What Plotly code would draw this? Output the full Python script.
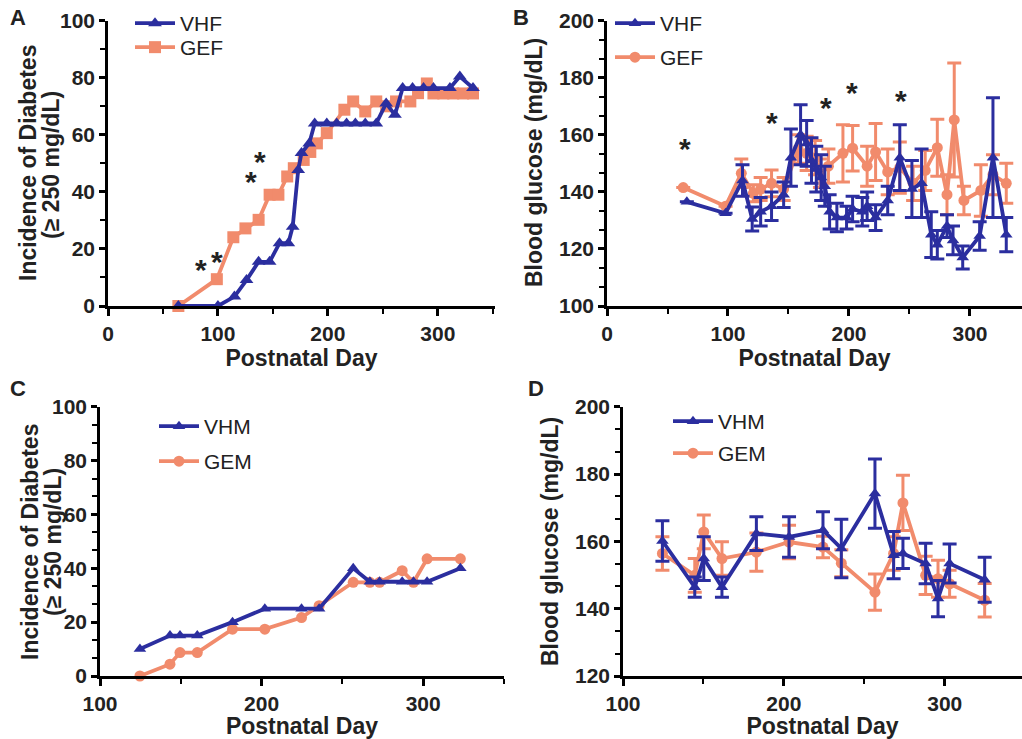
import plotly.graph_objects as go

BLUE = "#2b2e9f"
ORANGE = "#f18b6c"
FONT = "Liberation Sans, Arial, sans-serif"

# ---------------- Panel A: incidence (females) ----------------
a_vhf_x = [64, 100, 115, 126, 137, 147, 156, 164, 168, 173, 176, 183, 188, 199, 208, 217, 225, 234, 244, 253, 261, 268, 277, 287, 296, 311, 320, 332]
a_vhf_y = [0, 0, 3.3, 9.1, 15.5, 15.5, 22, 22, 27.8, 47.7, 53.6, 57, 64, 64, 64, 64, 64, 64, 64, 71, 67, 76.4, 76.4, 76.4, 76.4, 76.4, 80.4, 76.4]
a_gef_x = [64, 99, 114, 125, 137, 147, 155, 163, 169, 178, 184, 190, 199, 215, 223, 234, 244, 253, 262, 275, 282, 290, 296, 305, 314, 323, 332]
a_gef_y = [0, 9.4, 24.1, 27.2, 30.2, 39, 39, 45.4, 48.3, 51.2, 54, 57, 60.6, 68.8, 71.7, 68.2, 71.7, 70, 71.7, 71.7, 74.6, 78, 74.5, 74.5, 74.5, 74.5, 74.5]
a_star_x = [85, 99, 130, 138]
a_star_y = [15.5, 18.5, 46.5, 53.3]

# ---------------- Panel B: blood glucose (females) ----------------
b_vhf_x = [66, 98, 112, 120, 127, 136, 146, 152, 160, 165, 169, 173, 177, 180, 184, 190, 198, 203, 211, 215, 222, 232, 242, 252, 260, 268, 273, 281, 286, 294, 308, 319, 330]
b_vhf_y = [136.5, 132.5, 144, 130.5, 133, 135, 139, 152, 160, 157, 151, 148, 145, 142, 133, 131, 131, 134, 133, 135, 131, 137, 152, 141, 143, 125, 121.5, 128, 123, 117, 124.5, 152, 125]
b_vhf_e = [0, 0, 5.5, 4.2, 5, 5, 4.5, 10, 10.5, 8, 8, 8, 8, 7, 6, 5, 4, 4.5, 5, 5, 4.5, 5, 11.5, 10, 12, 8, 5, 4, 5, 4, 5, 21, 6]
b_gef_x = [63, 98, 111, 121, 127, 136, 146, 158, 165, 172, 176, 183, 195, 203, 215, 222, 232, 242, 253, 263, 273, 281, 287, 295, 309, 319, 330]
b_gef_y = [141.5, 135, 146.5, 139.5, 141, 143, 141, 155, 153.5, 152, 146.5, 149, 153.5, 155.3, 149, 154, 147, 148.5, 143, 147.5, 155.5, 139, 165.2, 137, 140.5, 146, 143]
b_gef_e = [0, 0, 5, 3, 4, 4.7, 4, 5, 6, 6, 5, 6, 10, 8, 7, 10, 8, 9, 6, 7, 10, 7, 20, 5, 9, 7, 7]
b_star_x = [64.5, 136, 181, 202.5, 243]
b_star_y = [158, 167, 172.5, 177.5, 175]

# ---------------- Panel C: incidence (males) ----------------
c_vhm_x = [124.7, 143.3, 149.5, 160.2, 182, 202, 224.7, 235.6, 256.7, 267, 273, 287, 294, 302.4, 323]
c_vhm_y = [10, 15, 15, 15, 20, 25, 25, 25, 40, 35, 35, 35, 35, 35, 40]
c_gem_x = [124.7, 143.3, 149.5, 160.2, 182, 202, 224.7, 235.6, 256.7, 267, 273, 287, 294, 302.4, 323]
c_gem_y = [0, 4.4, 8.7, 8.7, 17.4, 17.4, 21.7, 26.1, 34.8, 34.8, 34.8, 39.1, 34.8, 43.5, 43.5]

# ---------------- Panel D: blood glucose (males) ----------------
d_x = [124.5, 144.6, 150.2, 161.5, 182.9, 203.2, 224.3, 235.7, 256.6, 268.2, 274, 288.1, 295.8, 303, 324.8]
d_vhm_y = [160.1, 146.4, 154.9, 146.4, 162.3, 161.3, 163.3, 157.9, 174.2, 155.9, 156.4, 153.4, 143, 153.4, 148.6]
d_vhm_e = [6, 3, 6.5, 3, 5, 6, 5.5, 8.7, 10.3, 7, 4.5, 6, 5.4, 5.8, 6.7]
d_gem_y = [156.4, 149.9, 162.8, 154.9, 156.8, 159.8, 158.3, 153.5, 144.9, 156.4, 171.4, 149.9, 148.9, 147.4, 142.5]
d_gem_e = [5, 5, 5, 5, 5.7, 5, 3.2, 4, 5.4, 5, 8.2, 5.7, 5.5, 4, 5]

fig = go.Figure()

def line_trace(x, y, color, symbol, name, xa, ya, legend, err=None, msize=12):
    t = dict(x=x, y=y, mode="lines+markers", name=name,
             line=dict(color=color, width=3.8),
             marker=dict(color=color, symbol=symbol, size=msize),
             xaxis=xa, yaxis=ya, legend=legend, cliponaxis=False)
    if err is not None:
        t["error_y"] = dict(type="data", array=err, visible=True, color=color,
                            thickness=3, width=7)
    return go.Scatter(**t)

# Panel A
fig.add_trace(line_trace(a_gef_x, a_gef_y, ORANGE, "square", "GEF", "x", "y", "legend2"))
fig.add_trace(line_trace(a_vhf_x, a_vhf_y, BLUE, "triangle-up", "VHF", "x", "y", "legend"))
# Panel B
fig.add_trace(line_trace(b_gef_x, b_gef_y, ORANGE, "circle", "GEF", "x2", "y2", "legend4", b_gef_e, 11))
fig.add_trace(line_trace(b_vhf_x, b_vhf_y, BLUE, "triangle-up", "VHF", "x2", "y2", "legend3", b_vhf_e, 11))
# Panel C
fig.add_trace(line_trace(c_gem_x, c_gem_y, ORANGE, "circle", "GEM", "x3", "y3", "legend6", None, 11))
fig.add_trace(line_trace(c_vhm_x, c_vhm_y, BLUE, "triangle-up", "VHM", "x3", "y3", "legend5", None, 11))
# Panel D
fig.add_trace(line_trace(d_x, d_gem_y, ORANGE, "circle", "GEM", "x4", "y4", "legend8", d_gem_e, 11))
fig.add_trace(line_trace(d_x, d_vhm_y, BLUE, "triangle-up", "VHM", "x4", "y4", "legend7", d_vhm_e, 11))

W, H = 1022, 739
def px_x(p):
    return p / W
def px_y(p):
    return 1 - p / H

tickfont = dict(family=FONT, size=21, color="#222", weight="bold")
titlefont = dict(family=FONT, size=23, color="#222", weight="bold")

def xaxis(dom, rng, tick0, anchor):
    return dict(domain=dom, range=rng, anchor=anchor, showline=True, linecolor="black", linewidth=2.6,
                ticks="outside", ticklen=7, tickwidth=2.6, tickcolor="black", tick0=tick0, dtick=100,
                minor=dict(dtick=50, ticks="outside", ticklen=5, tickwidth=2.4, tickcolor="black", tick0=tick0),
                showgrid=False, zeroline=False, tickfont=tickfont, automargin=False,
                title=dict(text="Postnatal Day", font=titlefont, standoff=2))

def yaxis(dom, rng, minor_dtick, anchor):
    return dict(domain=dom, range=rng, anchor=anchor, showline=True, linecolor="black", linewidth=2.6,
                ticks="outside", ticklen=6, tickwidth=2.6, tickcolor="black", tick0=rng[0], dtick=20,
                minor=dict(dtick=minor_dtick, ticks="outside", ticklen=5, tickwidth=2.4, tickcolor="black", tick0=rng[0]),
                showgrid=False, zeroline=False, tickfont=tickfont, automargin=False)

top_dom = [px_y(306), px_y(20.7)]
bot_dom = [px_y(676), px_y(406.7)]

fig.update_layout(
    width=W, height=H, margin=dict(l=0, r=0, t=0, b=0, autoexpand=False),
    plot_bgcolor="white", paper_bgcolor="white",
    font=dict(family=FONT, color="#222"),
    xaxis=xaxis([px_x(108), px_x(495)], [0, 352], 0, "y"),
    yaxis=yaxis(top_dom, [0, 100], 10, "x"),
    xaxis2=xaxis([px_x(607), 1.0], [0, 343], 0, "y2"),
    yaxis2=yaxis(top_dom, [100, 200], 20 / 3, "x2"),
    xaxis3=xaxis([px_x(100), px_x(504)], [100, 350], 100, "y3"),
    yaxis3=yaxis(bot_dom, [0, 100], 20 / 3, "x3"),
    xaxis4=xaxis([px_x(623), 1.0], [100, 348], 100, "y4"),
    yaxis4=yaxis(bot_dom, [120, 200], 20 / 3, "x4"),
    showlegend=True,
)

def legend(xp, yp):
    return dict(x=px_x(xp), y=px_y(yp), xanchor="left", yanchor="top", bgcolor="rgba(0,0,0,0)",
                font=dict(family=FONT, size=21, color="#222"), itemwidth=40)

fig.update_layout(
    legend=legend(130, 3),
    legend2=legend(130, 27),
    legend3=legend(610, 3),
    legend4=legend(610, 37),
    legend5=legend(154, 406),
    legend6=legend(154, 441),
    legend7=legend(668, 401),
    legend8=legend(668, 433),
)

annotations = []
for xs, ys, xa, ya in [(a_star_x, a_star_y, "x", "y"), (b_star_x, b_star_y, "x2", "y2")]:
    for xv, yv in zip(xs, ys):
        annotations.append(dict(x=xv, y=yv, xref=xa, yref=ya, text="*", showarrow=False,
                                font=dict(family=FONT, size=30, color="#222", weight="bold"),
                                yshift=-8))
for lab, xp, yp in [("A", 18, 18), ("B", 521, 18), ("C", 18, 388), ("D", 536, 388)]:
    annotations.append(dict(x=px_x(xp), y=px_y(yp), xref="paper", yref="paper", text=lab,
                            showarrow=False, xanchor="center", yanchor="middle",
                            font=dict(family=FONT, size=22, color="#222", weight="bold")))

# y-axis titles
ytitles = [
    ("Incidence of Diabetes", 28, 163),
    ("(≥ 250 mg/dL)", 51, 165),
    ("Blood glucose (mg/dL)", 534, 163),
    ("Incidence of Diabetes", 30, 542),
    ("(≥ 250 mg/dL)", 53, 542),
    ("Blood glucose (mg/dL)", 550, 542),
]
for txt, xp, yp in ytitles:
    annotations.append(dict(x=px_x(xp), y=px_y(yp), xref="paper", yref="paper", text=txt,
                            textangle=-90, showarrow=False, xanchor="center", yanchor="middle",
                            font=titlefont))
fig.update_layout(annotations=annotations)

fig.write_html("out.html")
